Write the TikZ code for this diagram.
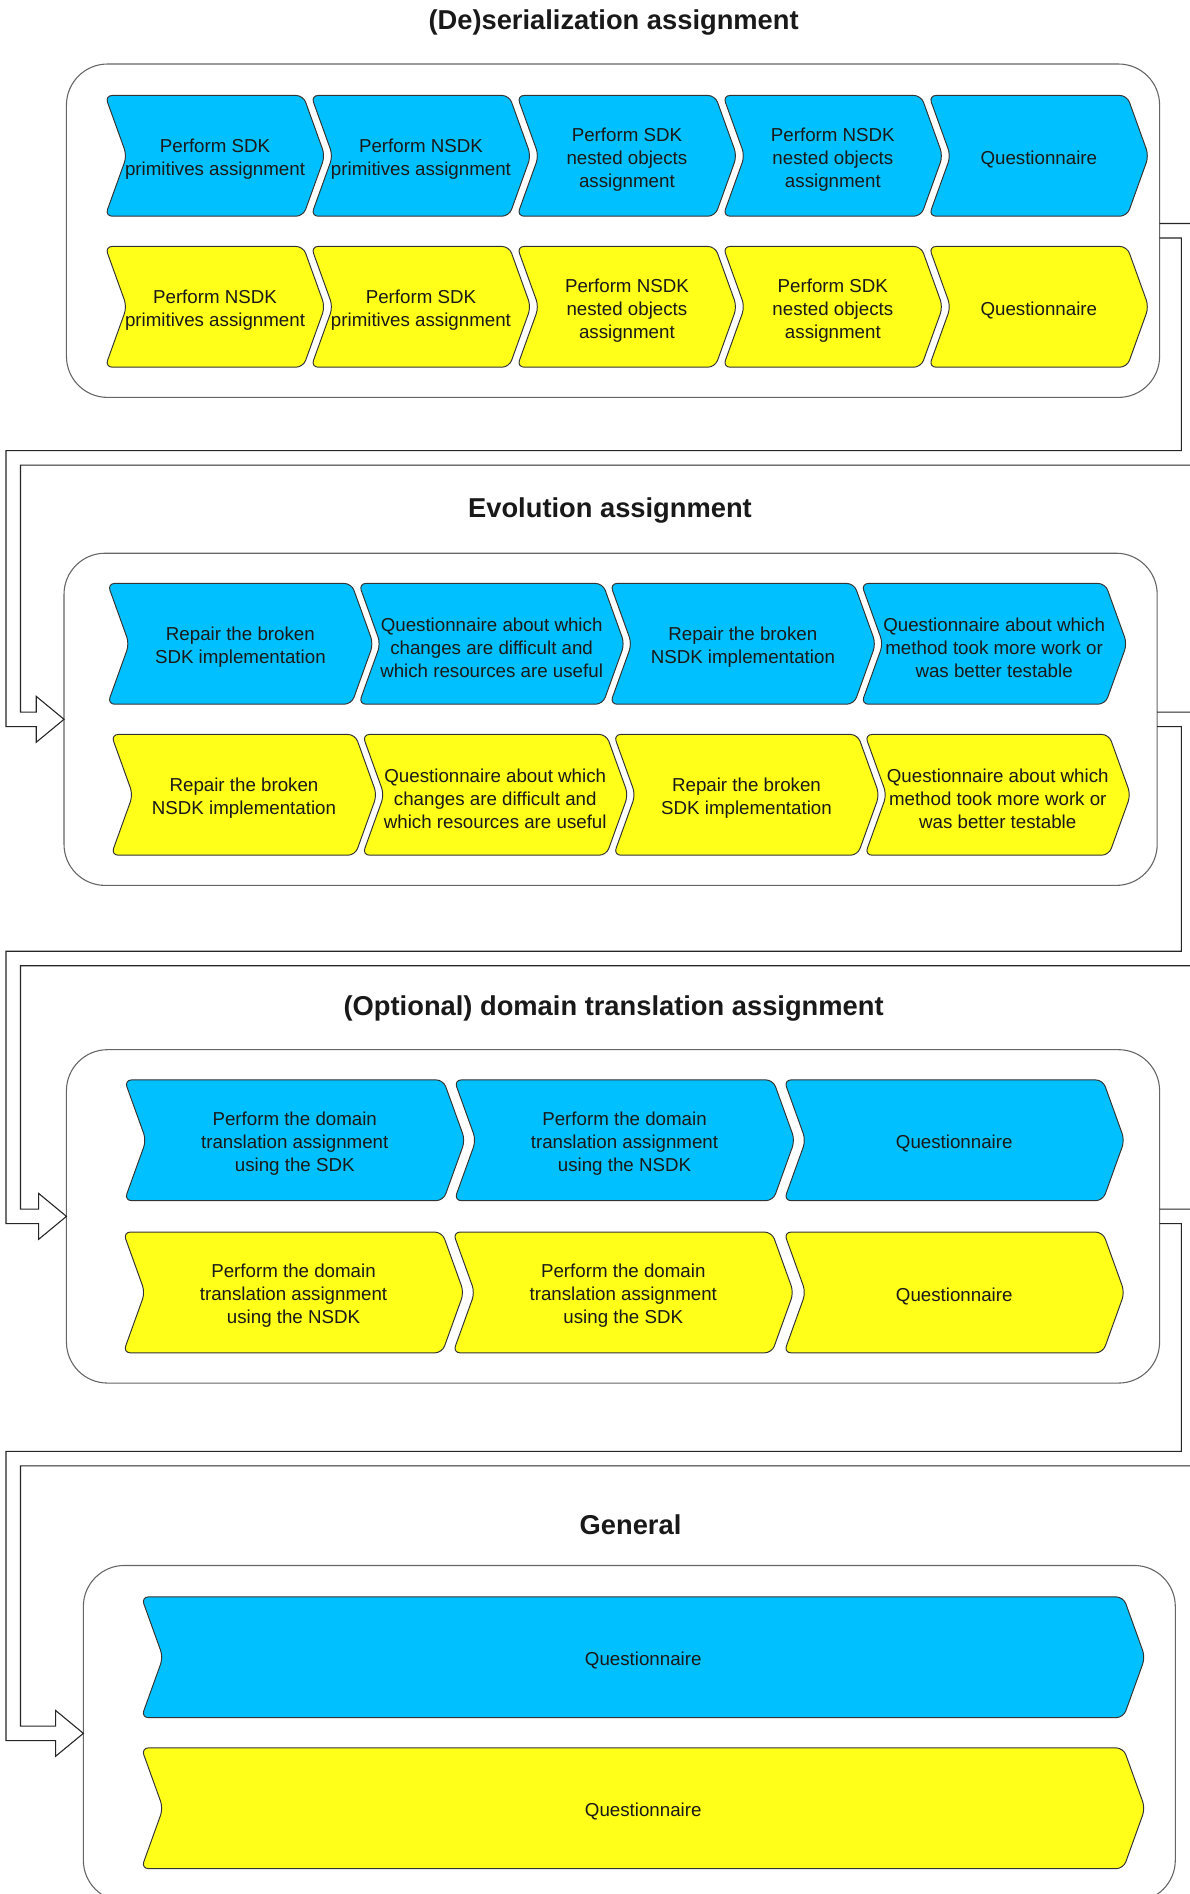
\documentclass[tikz,border=0pt]{standalone}
\usepackage{fontspec}
\setmainfont{Liberation Sans}
\usetikzlibrary{calc}
\definecolor{stepblue}{RGB}{0,192,255}
\definecolor{stepyellow}{RGB}{255,255,26}
\tikzset{
	chevblue/.style={fill=stepblue, draw=black!80, line width=0.4pt, rounded corners=3pt},
	chevyellow/.style={fill=stepyellow, draw=black!80, line width=0.4pt, rounded corners=3pt},
	chevtext/.style={align=center, text=black!90, font=\fontsize{7.75}{9.5}\selectfont, inner sep=0pt, yshift=-1.5pt},
	container/.style={draw=black!60, line width=0.45pt, rounded corners=17pt, fill=white, inner sep=0pt, outer sep=0pt},
	heading/.style={font=\bfseries\fontsize{11.3}{13}\selectfont, text=black!90, yshift=-1pt},
	flow/.style={draw=black!85, line width=0.45pt, line join=miter}
}
% step shape: style, left x, top y, width, name, text
\def\stepshape[#1](#2,#3)(#4)#5#6{\draw[#1] ({#2+#4/2},#3) -- ({#2+#4-18},#3) -- ({#2+#4},{#3+50}) -- ({#2+#4-18},{#3+100}) -- (#2,{#3+100}) -- ({#2+18},{#3+50}) -- (#2,#3) -- cycle; \node[chevtext] (#5) at ({#2+#4/2},{#3+50}) {#6};}
% hollow arrow: from, to, y of the crossing
\def\flexarrow(#1)(#2)(#3){\draw[flow] ($(#1.east)+(0,-6)$) -| (990,{#3+6}) -- (17,{#3+6}) |- ($(#2.west)+(-23,-6)$) -- ++(0,-13) -- (#2.west) -- ($(#2.west)+(-23,19)$) -- ++(0,-13) -| (5,{#3-6}) -- (978,{#3-6}) |- ($(#1.east)+(0,6)$);}

\begin{document}
\begin{tikzpicture}[x=0.5pt, y=-0.5pt]
			%%%%% START %%%%%
			\useasboundingbox (0,0) rectangle (985,1568);
			\fill[white] (0,0) rectangle (985,1568);
			
			%%%%% (De)serialization %%%%%
			\node[heading] (deserT) at (508,17) {(De)serialization assignment};
			\node[container, minimum width=452.5pt, minimum height=138pt] (deser) at (507.5,191) {};
			
			\stepshape[chevblue](87,79)(182){deB1}{Perform SDK\\primitives assignment}
			\stepshape[chevblue](257.5,79)(182){deB2}{Perform NSDK\\primitives assignment}
			\stepshape[chevblue](428,79)(182){deB3}{Perform SDK\\nested objects\\assignment}
			\stepshape[chevblue](598.5,79)(182){deB4}{Perform NSDK\\nested objects\\assignment}
			\stepshape[chevblue](769,79)(182){deB5}{Questionnaire}
			
			\stepshape[chevyellow](87,204)(182){deY1}{Perform NSDK\\primitives assignment}
			\stepshape[chevyellow](257.5,204)(182){deY2}{Perform SDK\\primitives assignment}
			\stepshape[chevyellow](428,204)(182){deY3}{Perform NSDK\\nested objects\\assignment}
			\stepshape[chevyellow](598.5,204)(182){deY4}{Perform SDK\\nested objects\\assignment}
			\stepshape[chevyellow](769,204)(182){deY5}{Questionnaire}
			
			%%%%% Evolution %%%%%
			\node[heading] (evolT) at (505,421) {Evolution assignment};
			\node[container, minimum width=452.5pt, minimum height=137.5pt] (evol) at (505.5,595.5) {};
			
			\stepshape[chevblue](89,483)(220){evB1}{Repair the broken\\SDK implementation}
			\stepshape[chevblue](297,483)(220){evB2}{Questionnaire about which\\changes are difficult and\\which resources are useful}
			\stepshape[chevblue](505,483)(220){evB3}{Repair the broken\\NSDK implementation}
			\stepshape[chevblue](713,483)(220){evB4}{Questionnaire about which\\method took more work or\\was better testable}
			
			\stepshape[chevyellow](92,608)(220){evY1}{Repair the broken\\NSDK implementation}
			\stepshape[chevyellow](300,608)(220){evY2}{Questionnaire about which\\changes are difficult and\\which resources are useful}
			\stepshape[chevyellow](508,608)(220){evY3}{Repair the broken\\SDK implementation}
			\stepshape[chevyellow](716,608)(220){evY4}{Questionnaire about which\\method took more work or\\was better testable}
			
			%%%%% Domain translation %%%%%
			\node[heading] (transT) at (508,833) {(Optional) domain translation assignment};
			\node[container, minimum width=452.5pt, minimum height=138pt] (trans) at (507.5,1007) {};
			
			\stepshape[chevblue](103,894)(282){trB1}{Perform the domain\\translation assignment\\using the SDK}
			\stepshape[chevblue](376,894)(282){trB2}{Perform the domain\\translation assignment\\using the NSDK}
			\stepshape[chevblue](649,894)(282){trB3}{Questionnaire}
			
			\stepshape[chevyellow](102,1020)(282){trY1}{Perform the domain\\translation assignment\\using the NSDK}
			\stepshape[chevyellow](375,1020)(282){trY2}{Perform the domain\\translation assignment\\using the SDK}
			\stepshape[chevyellow](649,1020)(282){trY3}{Questionnaire}
			
			%%%%% General %%%%%
			\node[heading] (generT) at (522,1260) {General};
			\node[container, minimum width=452pt, minimum height=139pt] (gener) at (521,1435) {};
			
			\stepshape[chevblue](117,1322)(831){geB}{Questionnaire}
			\stepshape[chevyellow](117,1447)(831){geY}{Questionnaire}
			
			%%%%% ARROWS %%%%%
			\flexarrow(deser)(evol)(379)
			\flexarrow(evol)(trans)(793.5)
			\flexarrow(trans)(gener)(1207.5)
			
			%%%%% END %%%%%
\end{tikzpicture}
\end{document}
